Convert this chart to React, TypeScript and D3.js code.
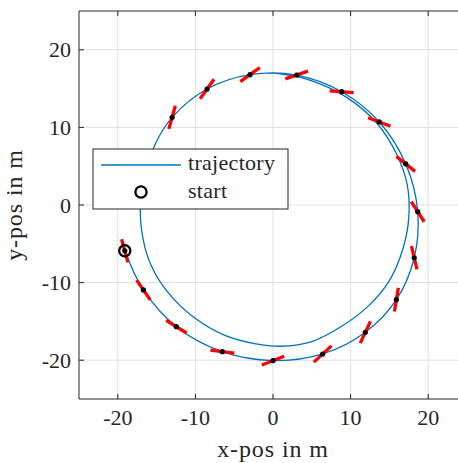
// Trajectory plot, revision 7 (serif text, refined second loop)
import * as d3 from "d3";
import React from "react";

const xTicks = [-20, -10, 0, 10, 20];
const yTicks = [-20, -10, 0, 10, 20];

// Marker positions along the first loop (m)
const markerX = [-19.1, -16.7, -12.46, -6.53, 0, 6.4, 11.9, 15.9, 18.2, 18.65, 17.1, 13.7, 8.85, 3.05, -2.96, -8.5, -13.0];
const markerY = [-5.9, -10.95, -15.68, -18.9, -20.05, -19.2, -16.4, -12.2, -6.8, -0.86, 5.3, 10.7, 14.6, 16.75, 16.8, 14.95, 11.3];
// Heading of each marker (degrees)
const markerHeading = [105.2, 124.6, 148.3, 172.7, 201.2, 222.7, 244.9, 260.4, 283.2, 303, 321.3, 339, 356, 378.9, 395.5, 414.5, 434.4];

// Continuation of the trajectory after the last marker (second loop)
const loop2X = [-15.2, -16.6, -17.1, -16.7, -15.7, -13.6, -10.3, -6.2, -2.2, 1.0, 5.0, 8.9, 12.3, 14.9, 16.7, 17.5, 17.3, 15.9, 13.5, 9.6, 5.0, 0.5, -1.0];
const loop2Y = [7.8, 3.5, -0.7, -4.6, -7.8, -11.2, -14.4, -16.8, -17.9, -18.2, -17.6, -15.6, -13.0, -9.9, -5.8, -1.6, 2.6, 6.6, 10.4, 13.8, 16.0, 16.95, 17.0];

const startX = -19.1;
const startY = -5.9;

const W = 458;
const H = 463;
const AX = "#262626";
const serif = (size: number, ls = 0) => ({
  fontFamily: "'Liberation Serif'",
  fontSize: size + "px",
  letterSpacing: ls + "px",
});

export default function App() {
  const x = d3.scaleLinear().domain([-25, 25]).range([79, 467]);
  const y = d3.scaleLinear().domain([-25, 25]).range([399, 11]);

  const traj: [number, number][] = [
    ...markerX.map((v, i) => [v, markerY[i]] as [number, number]),
    ...loop2X.map((v, i) => [v, loop2Y[i]] as [number, number]),
  ];
  const line = d3
    .line<[number, number]>()
    .x((d) => x(d[0]))
    .y((d) => y(d[1]))
    .curve(d3.curveCatmullRom.alpha(0.5));

  const half = 12;
  const [x0, x1] = x.range();
  const [y0, y1] = y.range();

  return (
    <svg width={W} height={H} style={{ position: "absolute", left: 0, top: 0 }}>
      <defs>
        <clipPath id="plotClip7">
          <rect x={x0} y={y1} width={x1 - x0} height={y0 - y1} />
        </clipPath>
      </defs>
      <rect x={0} y={0} width={W} height={H} fill="#ffffff" />
      <g stroke="#dfdfdf" strokeWidth={1}>
        {xTicks.map((t) => (
          <line key={"gx" + t} x1={x(t)} x2={x(t)} y1={y1} y2={y0} />
        ))}
        {yTicks.map((t) => (
          <line key={"gy" + t} x1={x0} x2={x1} y1={y(t)} y2={y(t)} />
        ))}
      </g>
      <g clipPath="url(#plotClip7)">
        <path d={line(traj) || ""} fill="none" stroke="#0072BD" strokeWidth={1.3} />
        {markerX.map((mx, i) => {
          const a = (markerHeading[i] * Math.PI) / 180;
          const cx = x(mx);
          const cy = y(markerY[i]);
          return (
            <line
              key={"h" + i}
              x1={cx - half * Math.cos(a)}
              y1={cy + half * Math.sin(a)}
              x2={cx + half * Math.cos(a)}
              y2={cy - half * Math.sin(a)}
              stroke="#FF0000"
              strokeWidth={3.3}
            />
          );
        })}
        {markerX.map((mx, i) => (
          <circle key={"d" + i} cx={x(mx)} cy={y(markerY[i])} r={2.6} fill="#000" />
        ))}
        <circle cx={x(startX)} cy={y(startY)} r={5.6} fill="none" stroke="#000" strokeWidth={2.3} />
      </g>
      <g stroke={AX} strokeWidth={1} fill="none">
        <line x1={x0} x2={x0} y1={y1} y2={y0} />
        <line x1={x1} x2={x1} y1={y1} y2={y0} />
        <line x1={x0} x2={x1} y1={y0} y2={y0} />
        <line x1={x0} x2={x1} y1={y1} y2={y1} />
        {xTicks.map((t) => (
          <g key={"tx" + t}>
            <line x1={x(t)} x2={x(t)} y1={y0} y2={y0 - 5} />
            <line x1={x(t)} x2={x(t)} y1={y1} y2={y1 + 5} />
          </g>
        ))}
        {yTicks.map((t) => (
          <g key={"ty" + t}>
            <line x1={x0} x2={x0 + 5} y1={y(t)} y2={y(t)} />
            <line x1={x1} x2={x1 - 5} y1={y(t)} y2={y(t)} />
          </g>
        ))}
      </g>
      {xTicks.map((t) => (
        <text key={"lx" + t} x={x(t)} y={y0 + 26} textAnchor="middle" fill={AX} style={serif(22)}>
          {String(t)}
        </text>
      ))}
      {yTicks.map((t) => (
        <text key={"ly" + t} x={x0 - 8} y={y(t) + 7.5} textAnchor="end" fill={AX} style={serif(22)}>
          {String(t)}
        </text>
      ))}
      <text x={(x0 + x1) / 2} y={457} textAnchor="middle" fill={AX} style={serif(24, 0.9)}>
        x-pos in m
      </text>
      <text
        transform={`translate(22, ${(y0 + y1) / 2}) rotate(-90)`}
        textAnchor="middle"
        fill={AX}
        style={serif(24, 0.9)}
      >
        y-pos in m
      </text>
      <rect x={93} y={149} width={195} height={60} fill="#fff" stroke={AX} strokeWidth={1} />
      <line x1={101} x2={181} y1={165} y2={165} stroke="#0072BD" strokeWidth={1.3} />
      <circle cx={141} cy={192} r={5.6} fill="none" stroke="#000" strokeWidth={2.3} />
      <text x={188} y={170} fill={AX} style={serif(22, 0.3)}>
        trajectory
      </text>
      <text x={188} y={197.5} fill={AX} style={serif(22, 0.3)}>
        start
      </text>
    </svg>
  );
}
